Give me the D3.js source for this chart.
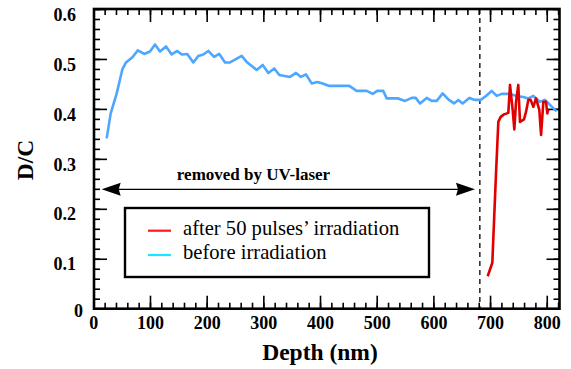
<!DOCTYPE html>
<html><head><meta charset="utf-8">
<script src="https://cdn.jsdelivr.net/npm/d3@7"></script>
<style>body{margin:0;background:#fff}svg{display:block}</style>
</head><body>
<svg id="c" width="571" height="369"></svg>
<script>
// Data
const beforeDepth = [23.6,30.7,41.3,51.2,57.7,69.5,78.3,90,100,108.9,117.7,128.3,138.3,148.2,156,165.8,176.4,185.2,194,202.9,213,222.3,232.4,241.2,261.8,270.6,288.3,298.9,308.8,319.3,328.2,347,357.6,366.4,375.3,385.3,395.2,404.7,416.4,451.7,464.7,482.4,493,501,511.6,517.6,538,550,561.8,568.8,576.4,588.2,597,605.9,616.4,626.3,636.4,644,651.7,663.4,673.4,683.5,692.8,702.9,711.7,720.5,735,746.9,758.6,767.5,776.3,788.1,796.9,805.7,817.5];
const beforeDC = [0.341,0.391,0.431,0.479,0.493,0.504,0.517,0.510,0.515,0.529,0.515,0.525,0.509,0.516,0.509,0.510,0.493,0.506,0.509,0.516,0.504,0.510,0.493,0.493,0.506,0.494,0.478,0.488,0.472,0.481,0.468,0.464,0.472,0.464,0.469,0.451,0.454,0.451,0.446,0.446,0.436,0.436,0.430,0.436,0.436,0.421,0.421,0.416,0.422,0.422,0.411,0.422,0.416,0.416,0.431,0.419,0.411,0.418,0.411,0.422,0.418,0.418,0.426,0.436,0.426,0.430,0.430,0.426,0.424,0.421,0.426,0.414,0.418,0.408,0.395];
const afterDepth = [695.8,704,710.5,714.6,718.8,724.6,732.2,735.2,739.9,742.8,745.8,749.8,752.8,759.9,763.4,767.5,771.7,776.3,781.1,786.9,790,794,798.7,801,802.9];
const afterDC = [0.065,0.092,0.271,0.374,0.384,0.389,0.392,0.448,0.398,0.359,0.414,0.448,0.374,0.379,0.394,0.418,0.418,0.404,0.421,0.398,0.348,0.414,0.414,0.391,0.399];
const xTicks = [0,100,200,300,400,500,600,700,800];
const yTicks = [0.1,0.2,0.3,0.4,0.5,0.6];
const seriesNames = ["after 50 pulses\u2019 irradiation","before irradiation"];
const arrowSpan = [14.8, 673.4], arrowLevel = 0.239, dashDepth = 682;

const svg = d3.select("#c");
const L=94, R=559.5, T=9, B=308.7;
const x = d3.scaleLinear().domain([0,822]).range([93.3, 93.3+0.5668*822]);
const y = d3.scaleLinear().domain([0,0.6]).range([B, T]);
const font = "'Liberation Serif','Times New Roman',serif";

// axes (ticks inward)
function styleAx(g){ g.select(".domain").remove(); g.selectAll("line").attr("stroke","#000").attr("stroke-width",1.6); g.selectAll("text").attr("font-family",font).attr("font-weight","bold").attr("font-size",18).attr("fill","#000"); }
const minorX = d3.range(0,823,20), minorY = d3.range(0,0.601,0.02);
svg.append("g").attr("transform",`translate(0,${B})`).call(d3.axisBottom(x).tickValues(minorX).tickSize(-6).tickFormat("")).call(styleAx);
svg.append("g").attr("transform",`translate(0,${T})`).call(d3.axisTop(x).tickValues(minorX).tickSize(-6).tickFormat("")).call(styleAx);
svg.append("g").attr("transform",`translate(0,${B})`).call(d3.axisBottom(x).tickValues(xTicks).tickSize(-13).tickPadding(8).tickFormat(d3.format("d"))).call(styleAx);
svg.append("g").attr("transform",`translate(0,${T})`).call(d3.axisTop(x).tickValues(xTicks).tickSize(-13).tickFormat("")).call(styleAx);
svg.append("g").attr("transform",`translate(${L},0)`).call(d3.axisLeft(y).tickValues(minorY).tickSize(-6).tickFormat("")).call(styleAx);
svg.append("g").attr("transform",`translate(${R},0)`).call(d3.axisRight(y).tickValues(minorY).tickSize(-6).tickFormat("")).call(styleAx);
const yAx = svg.append("g").attr("transform",`translate(${L},0)`).call(d3.axisLeft(y).tickValues(yTicks).tickSize(-13).tickPadding(18).tickFormat(d3.format(".1f"))).call(styleAx);
yAx.selectAll("text").attr("dy","0.62em");
svg.append("g").attr("transform",`translate(${R},0)`).call(d3.axisRight(y).tickValues(yTicks).tickSize(-13).tickFormat("")).call(styleAx);
svg.append("text").attr("x",83).attr("y",B+8).attr("text-anchor","end").attr("font-family",font).attr("font-weight","bold").attr("font-size",18).text("0");

// frame
svg.append("rect").attr("x",L).attr("y",T).attr("width",R-L).attr("height",B-T).attr("fill","none").attr("stroke","#000").attr("stroke-width",2.6);

// dashed line
svg.append("line").attr("x1",x(dashDepth)).attr("x2",x(dashDepth)).attr("y1",T).attr("y2",B).attr("stroke","#000").attr("stroke-width",1.3).attr("stroke-dasharray","5,4");

// lines
const line = d3.line().x(d=>x(d[0])).y(d=>y(d[1]));
svg.append("path").datum(d3.zip(beforeDepth,beforeDC)).attr("d",line).attr("fill","none").attr("stroke","#4da6ff").attr("stroke-width",2.6).attr("stroke-linejoin","round");
svg.append("path").datum(d3.zip(afterDepth,afterDC)).attr("d",line).attr("fill","none").attr("stroke","#e00000").attr("stroke-width",2.6).attr("stroke-linejoin","round");

// arrow
const ay = y(arrowLevel), ax1 = x(arrowSpan[0]), ax2 = x(arrowSpan[1]);
svg.append("line").attr("x1",ax1+4).attr("x2",ax2-4).attr("y1",ay).attr("y2",ay).attr("stroke","#000").attr("stroke-width",1.3);
svg.append("path").attr("d",`M${ax1},${ay} L${ax1+19},${ay-6.5} L${ax1+17},${ay} L${ax1+19},${ay+6.5} Z`).attr("fill","#000");
svg.append("path").attr("d",`M${ax2},${ay} L${ax2-19},${ay-6.5} L${ax2-17},${ay} L${ax2-19},${ay+6.5} Z`).attr("fill","#000");
svg.append("text").attr("x",253.5).attr("y",180).attr("text-anchor","middle").attr("font-family",font).attr("font-weight","bold").attr("font-size",17).text("removed by UV-laser");

// legend
svg.append("rect").attr("x",125).attr("y",208).attr("width",304).attr("height",69).attr("fill","#fff").attr("stroke","#000").attr("stroke-width",2.4);
const legColors = ["#ff1a1a","#1ae6ff"];
seriesNames.forEach((n,i)=>{
  const ly = 230.7 + i*24.3;
  svg.append("line").attr("x1",148).attr("x2",171).attr("y1",ly).attr("y2",ly).attr("stroke",legColors[i]).attr("stroke-width",2.2);
  svg.append("text").attr("x",183).attr("y",ly+4).attr("font-family",font).attr("font-size",20.6).text(n);
});

// axis titles
svg.append("text").attr("x",320).attr("y",360).attr("text-anchor","middle").attr("font-family",font).attr("font-weight","bold").attr("font-size",23.5).text("Depth (nm)");
svg.append("text").attr("transform","translate(33,160) rotate(-90)").attr("text-anchor","middle").attr("font-family",font).attr("font-weight","bold").attr("font-size",23.5).text("D/C");
</script>
</body></html>
